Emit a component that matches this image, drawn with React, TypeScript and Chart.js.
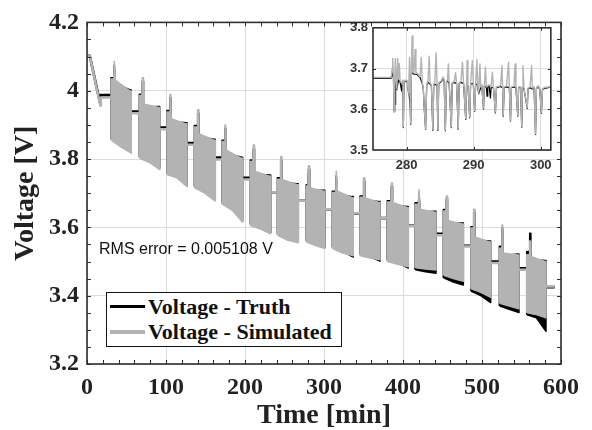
import React, { useEffect, useRef } from "react";
import { Chart, registerables } from "chart.js";

Chart.register(...registerables);

const SERIF = "'Liberation Serif', 'Times New Roman', serif";
const SANS = "'Liberation Sans', Arial, sans-serif";
const GRAY = "#b3b3b3";
const BLACK = "#000000";
const FRAME = "#2e2e2e";
const GRID = "#dcdcdc";
const LABEL = "#222222";

// ---------- axis ticks ----------
const xTicks = [0, 100, 200, 300, 400, 500, 600];
const yTicks = [3.2, 3.4, 3.6, 3.8, 4.0, 4.2];
const insetXTicks = [280, 290, 300];
const insetYTicks = [3.5, 3.6, 3.7, 3.8];

// ---------- main plot data (minutes, volts) ----------
// initial relaxation
const initTruthT = [1, 3.5, 16.5, 17.0];
const initTruthV = [4.102, 4.102, 3.965, 3.987];
const initSimT = [1, 3.5, 16.9, 17.5];
const initSimV = [4.102, 4.102, 3.956, 3.98];

// drive-cycle blocks
const blockStart = [30.4, 66.2, 101.3, 135.9, 170.9, 206.7, 241.0, 277.5, 310.5, 345.6, 380.0, 415.2, 451.0, 486.0, 522.0, 556.6];
const blockEnd = [56.0, 92.0, 126.6, 162.4, 197.0, 232.5, 267.5, 301.0, 337.0, 370.9, 406.7, 441.8, 476.4, 511.0, 546.8, 581.0];
const spikeT = [35.0, 70.5, 105.5, 140.5, 175.1, 211.0, 245.6, 280.8, 316.0, 350.6, 385.7, 420.7, 455.3, 489.9, 525.7, 560.8];

// rest level before each block
const truthRest = [3.987, 3.939, 3.892, 3.847, 3.804, 3.745, 3.703, 3.678, 3.653, 3.641, 3.627, 3.605, 3.581, 3.546, 3.500, 3.480];
const simRest = [3.980, 3.934, 3.887, 3.842, 3.799, 3.740, 3.703, 3.678, 3.653, 3.641, 3.627, 3.605, 3.577, 3.544, 3.496, 3.476];

// simulated envelope of each block
const simTopStart = [4.034, 3.986, 3.938, 3.894, 3.851, 3.793, 3.741, 3.721, 3.702, 3.688, 3.674, 3.668, 3.648, 3.598, 3.539, 3.520];
const simSpikeV = [4.086, 4.038, 3.990, 3.944, 3.900, 3.841, 3.807, 3.780, 3.764, 3.745, 3.730, 3.711, 3.692, 3.653, 3.607, 3.560];
const simTopAfter = [4.030, 3.961, 3.918, 3.874, 3.826, 3.764, 3.740, 3.716, 3.706, 3.687, 3.673, 3.653, 3.620, 3.572, 3.525, 3.515];
const simTopEnd = [3.999, 3.951, 3.903, 3.855, 3.802, 3.750, 3.725, 3.706, 3.687, 3.673, 3.658, 3.644, 3.610, 3.557, 3.519, 3.500];
const simLowStart = [3.855, 3.802, 3.754, 3.716, 3.668, 3.605, 3.577, 3.557, 3.538, 3.517, 3.500, 3.482, 3.460, 3.420, 3.378, 3.350];
const simLowMid = [3.835, 3.790, 3.745, 3.700, 3.650, 3.595, 3.562, 3.547, 3.525, 3.510, 3.492, 3.478, 3.450, 3.410, 3.370, 3.345];
const simLowEnd = [3.817, 3.769, 3.719, 3.677, 3.615, 3.581, 3.555, 3.538, 3.517, 3.505, 3.485, 3.475, 3.442, 3.395, 3.362, 3.335];

// truth envelope of each block
const truthTopStart = [4.038, 3.990, 3.942, 3.898, 3.855, 3.797, 3.745, 3.725, 3.706, 3.692, 3.678, 3.672, 3.652, 3.602, 3.545, 3.529];
const truthSpikeV = [4.075, 4.028, 3.980, 3.935, 3.890, 3.830, 3.795, 3.770, 3.752, 3.735, 3.720, 3.700, 3.684, 3.645, 3.598, 3.583];
const truthTopAfter = [4.022, 3.953, 3.910, 3.866, 3.818, 3.756, 3.732, 3.708, 3.698, 3.679, 3.665, 3.645, 3.612, 3.564, 3.517, 3.507];
const truthTopEnd = [4.002, 3.954, 3.906, 3.858, 3.805, 3.753, 3.728, 3.709, 3.690, 3.676, 3.661, 3.647, 3.613, 3.560, 3.522, 3.503];
const truthLowStart = [3.859, 3.806, 3.758, 3.720, 3.672, 3.609, 3.581, 3.561, 3.542, 3.521, 3.504, 3.476, 3.452, 3.413, 3.370, 3.344];
const truthLowMid = [3.839, 3.794, 3.749, 3.704, 3.654, 3.599, 3.566, 3.551, 3.529, 3.514, 3.496, 3.470, 3.440, 3.400, 3.360, 3.335];
const truthLowEnd = [3.821, 3.773, 3.723, 3.681, 3.619, 3.585, 3.559, 3.542, 3.513, 3.501, 3.481, 3.466, 3.431, 3.380, 3.351, 3.296];

// final rest
const finalT = [581.0, 592.0];
const finalTruthV = [3.425, 3.425];
const finalSimV = [3.427, 3.427];

// ---------- inset data (zoom 275 - 301.5 min), [minute, volt] ----------
const insetSim: [number, number][] = [
  [275.0, 3.678], [277.7, 3.678], [277.85, 3.700], [277.94, 3.725], [278.05, 3.680], [278.14, 3.593], [278.25, 3.680], [278.33, 3.725], [278.45, 3.672], [278.55, 3.650],
  [278.68, 3.725], [278.8, 3.675], [278.92, 3.712], [279.05, 3.668], [279.3, 3.665], [279.45, 3.672], [279.52, 3.557], [279.62, 3.668], [279.9, 3.672], [280.1, 3.670],
  [280.3, 3.640], [280.45, 3.727], [280.55, 3.600], [280.62, 3.565], [280.72, 3.700], [280.83, 3.780], [280.95, 3.690], [281.1, 3.690], [281.27, 3.747], [281.4, 3.690],
  [281.6, 3.688], [281.75, 3.685], [282.0, 3.680], [282.2, 3.727], [282.35, 3.665], [282.5, 3.650], [282.65, 3.600], [282.84, 3.553], [283.0, 3.660], [283.2, 3.670],
  [283.38, 3.730], [283.5, 3.665], [283.7, 3.660], [283.92, 3.550], [284.05, 3.660], [284.2, 3.665], [284.41, 3.739], [284.55, 3.660], [284.66, 3.550], [284.8, 3.665],
  [285.2, 3.670], [285.45, 3.680], [285.6, 3.672], [285.78, 3.549], [285.95, 3.668], [286.1, 3.672], [286.23, 3.711], [286.35, 3.665], [286.67, 3.557], [286.8, 3.665],
  [287.1, 3.668], [287.3, 3.690], [287.45, 3.665], [287.7, 3.553], [287.85, 3.665], [288.1, 3.668], [288.33, 3.715], [288.5, 3.665], [288.82, 3.577], [288.95, 3.665],
  [289.02, 3.719], [289.15, 3.660], [289.41, 3.581], [289.55, 3.665], [289.8, 3.719], [289.95, 3.665], [290.15, 3.597], [290.3, 3.665], [290.49, 3.723], [290.6, 3.660],
  [290.75, 3.640], [290.93, 3.711], [291.05, 3.655], [291.2, 3.660], [291.47, 3.603], [291.6, 3.660], [291.76, 3.703], [291.9, 3.655], [292.3, 3.660], [292.6, 3.655],
  [292.79, 3.691], [292.95, 3.655], [293.24, 3.593], [293.4, 3.655], [293.8, 3.657], [294.0, 3.658], [294.22, 3.707], [294.32, 3.655], [294.41, 3.585], [294.55, 3.655],
  [294.9, 3.657], [295.2, 3.715], [295.32, 3.655], [295.49, 3.573], [295.62, 3.655], [296.0, 3.657], [296.18, 3.711], [296.3, 3.655], [296.57, 3.585], [296.7, 3.655],
  [297.0, 3.655], [297.16, 3.558], [297.25, 3.655], [297.35, 3.707], [297.5, 3.652], [297.99, 3.604], [298.1, 3.652], [298.4, 3.655], [298.63, 3.707], [298.75, 3.652],
  [299.0, 3.655], [299.22, 3.540], [299.35, 3.652], [299.6, 3.658], [299.85, 3.650], [300.1, 3.592], [300.25, 3.650], [300.4, 3.652], [300.7, 3.654], [301.5, 3.655],
];
const insetTruth: [number, number][] = [
  [275.0, 3.676], [277.7, 3.676], [277.85, 3.690], [278.05, 3.676], [278.14, 3.596], [278.25, 3.672], [278.3, 3.612], [278.37, 3.670], [278.45, 3.670], [278.55, 3.648],
  [278.8, 3.672], [279.05, 3.666], [279.26, 3.645], [279.35, 3.665], [279.45, 3.670], [279.52, 3.555], [279.62, 3.666], [279.9, 3.670], [280.1, 3.668], [280.3, 3.640],
  [280.36, 3.644], [280.55, 3.600], [280.62, 3.563], [280.72, 3.690], [280.95, 3.688], [281.1, 3.686], [281.4, 3.686], [281.6, 3.685], [281.75, 3.682], [282.0, 3.678],
  [282.35, 3.663], [282.5, 3.648], [282.65, 3.598], [282.84, 3.551], [283.0, 3.658], [283.2, 3.666], [283.5, 3.662], [283.7, 3.658], [283.92, 3.548], [284.05, 3.658],
  [284.2, 3.662], [284.55, 3.658], [284.66, 3.548], [284.8, 3.663], [285.2, 3.668], [285.45, 3.676], [285.6, 3.670], [285.78, 3.547], [285.95, 3.666], [286.1, 3.670],
  [286.35, 3.663], [286.67, 3.555], [286.8, 3.663], [287.1, 3.666], [287.45, 3.663], [287.7, 3.551], [287.85, 3.663], [288.1, 3.666], [288.5, 3.663], [288.82, 3.575],
  [288.95, 3.663], [289.15, 3.658], [289.41, 3.579], [289.55, 3.663], [289.95, 3.663], [290.15, 3.595], [290.3, 3.663], [290.6, 3.658], [290.75, 3.638], [291.05, 3.653],
  [291.2, 3.658], [291.47, 3.601], [291.6, 3.658], [291.9, 3.653], [292.0, 3.632], [292.1, 3.654], [292.3, 3.658], [292.5, 3.628], [292.6, 3.653], [292.95, 3.653],
  [293.24, 3.591], [293.4, 3.653], [293.8, 3.655], [294.0, 3.656], [294.32, 3.653], [294.41, 3.583], [294.55, 3.653], [294.9, 3.655], [295.32, 3.653], [295.49, 3.571],
  [295.62, 3.653], [296.0, 3.655], [296.3, 3.653], [296.57, 3.583], [296.7, 3.653], [297.0, 3.653], [297.16, 3.556], [297.25, 3.653], [297.5, 3.650], [297.99, 3.602],
  [298.1, 3.650], [298.4, 3.653], [298.75, 3.650], [299.0, 3.653], [299.22, 3.538], [299.35, 3.650], [299.6, 3.656], [299.85, 3.648], [300.1, 3.590], [300.25, 3.648],
  [300.4, 3.650], [300.7, 3.652], [301.5, 3.654],
];

const SPIKE_HALF = 1.1; // half width of the first pulse of each block, minutes

type P = { x: number; y: number };

function zip(t: number[], v: number[]): P[] {
  const n = Math.min(t.length, v.length);
  const out: P[] = [];
  for (let i = 0; i < n; i++) out.push({ x: t[i], y: v[i] });
  return out;
}

function pairs(list: [number, number][]): P[] {
  return list.map(([x, y]) => ({ x, y }));
}

function blockPoly(i: number, topStart: number[], spikeV: number[], topAfter: number[], topEnd: number[],
  lowStart: number[], lowMid: number[], lowEnd: number[]): P[] {
  const s = blockStart[i], e = blockEnd[i], k = spikeT[i];
  return [
    { x: s, y: lowStart[i] },
    { x: s, y: topStart[i] },
    { x: k - SPIKE_HALF, y: topStart[i] },
    { x: k - SPIKE_HALF * 0.4, y: spikeV[i] },
    { x: k + SPIKE_HALF * 0.4, y: spikeV[i] },
    { x: k + SPIKE_HALF, y: topAfter[i] },
    { x: e - 1.5, y: topEnd[i] },
    { x: e, y: topEnd[i] },
    { x: e, y: lowEnd[i] },
    { x: (s + e) / 2, y: lowMid[i] },
    { x: s + 0.5, y: lowStart[i] },
    { x: s, y: lowStart[i] },
  ];
}

function restLine(initT: number[], initV: number[], rest: number[], finV: number[]): P[] {
  const pts = zip(initT, initV);
  for (let i = 0; i < blockStart.length; i++) {
    const from = i === 0 ? initT[initT.length - 1] : blockEnd[i - 1];
    pts.push({ x: from, y: rest[i] });
    pts.push({ x: blockStart[i], y: rest[i] });
  }
  return pts.concat(zip(finalT, finV));
}

function framePlugin(tickLen: number, xMinor: number[], yMinor: number[], whiteBg: boolean) {
  return {
    id: "frameTicks",
    beforeDraw(chart: any) {
      if (!whiteBg) return;
      const { ctx, chartArea: a } = chart;
      ctx.save();
      ctx.fillStyle = "#ffffff";
      ctx.fillRect(a.left, a.top, a.right - a.left, a.bottom - a.top);
      ctx.restore();
    },
    afterDatasetsDraw(chart: any) {
      const { ctx, chartArea: a, scales } = chart;
      const x = scales.x, y = scales.y;
      ctx.save();
      ctx.strokeStyle = FRAME;
      ctx.lineWidth = 1;
      ctx.beginPath();
      for (const v of xMinor) {
        const px = Math.round(x.getPixelForValue(v)) + 0.5;
        ctx.moveTo(px, a.bottom); ctx.lineTo(px, a.bottom - tickLen);
        ctx.moveTo(px, a.top); ctx.lineTo(px, a.top + tickLen);
      }
      for (const v of yMinor) {
        const py = Math.round(y.getPixelForValue(v)) + 0.5;
        ctx.moveTo(a.left, py); ctx.lineTo(a.left + tickLen, py);
        ctx.moveTo(a.right, py); ctx.lineTo(a.right - tickLen, py);
      }
      ctx.stroke();
      ctx.lineWidth = 1.6;
      ctx.strokeRect(a.left, a.top, a.right - a.left, a.bottom - a.top);
      ctx.restore();
    },
  };
}

function fmt(v: number) {
  return String(Number(v.toFixed(2)));
}

function lineDs(data: P[], color: string, width: number, order: number, fill: any = false) {
  return {
    data,
    showLine: true,
    borderColor: color,
    backgroundColor: color,
    borderWidth: width,
    pointRadius: 0,
    pointHoverRadius: 0,
    borderJoinStyle: "round",
    fill,
    order,
  };
}

function mainConfig(): any {
  const datasets: any[] = [];
  datasets.push(lineDs(restLine(initSimT, initSimV, simRest, finalSimV), GRAY, 2.5, 0));
  for (let i = 0; i < blockStart.length; i++) {
    datasets.push(lineDs(blockPoly(i, simTopStart, simSpikeV, simTopAfter, simTopEnd, simLowStart, simLowMid, simLowEnd), GRAY, 1.5, 1, "shape"));
  }
  datasets.push(lineDs(restLine(initTruthT, initTruthV, truthRest, finalTruthV), BLACK, 2.6, 2));
  for (let i = 0; i < blockStart.length; i++) {
    datasets.push(lineDs(blockPoly(i, truthTopStart, truthSpikeV, truthTopAfter, truthTopEnd, truthLowStart, truthLowMid, truthLowEnd), BLACK, 1.5, 3, "shape"));
  }
  const xMinor: number[] = [];
  for (let v = 0; v <= 600; v += 20) xMinor.push(v);
  const yMinor: number[] = [];
  for (let i = 0; i <= 20; i++) yMinor.push(3.2 + i * 0.05);

  return {
    type: "scatter",
    data: { datasets },
    options: {
      responsive: false,
      animation: false,
      devicePixelRatio: 1,
      events: [],
      layout: { padding: { left: 0, top: 17, right: 31, bottom: 0 } },
      plugins: { legend: { display: false }, tooltip: { enabled: false } },
      scales: {
        x: {
          type: "linear",
          min: 0,
          max: 600,
          afterBuildTicks: (s: any) => { s.ticks = xTicks.map((v) => ({ value: v })); },
          afterFit: (s: any) => { s.height = 66; },
          grid: { color: GRID, lineWidth: 1, drawTicks: false },
          border: { display: false },
          ticks: {
            autoSkip: false,
            maxRotation: 0,
            padding: 9,
            color: LABEL,
            font: { family: SERIF, size: 24, weight: "bold" },
            callback: (v: number) => fmt(v),
          },
          title: {
            display: true,
            text: "Time [min]",
            color: LABEL,
            padding: { top: 0, bottom: 0 },
            font: { family: SERIF, size: 28, weight: "bold", lineHeight: 1 },
          },
        },
        y: {
          type: "linear",
          min: 3.2,
          max: 4.2,
          afterBuildTicks: (s: any) => { s.ticks = yTicks.map((v) => ({ value: v })); },
          afterFit: (s: any) => { s.width = 87; },
          grid: { color: GRID, lineWidth: 1, drawTicks: false },
          border: { display: false },
          ticks: {
            padding: 8,
            color: LABEL,
            font: { family: SERIF, size: 24, weight: "bold" },
            callback: (v: number) => fmt(v),
          },
          title: {
            display: true,
            text: "Voltage [V]",
            color: LABEL,
            padding: { top: 12, bottom: 0 },
            font: { family: SERIF, size: 28, weight: "bold", lineHeight: 1 },
          },
        },
      },
    },
    plugins: [framePlugin(4, xMinor, yMinor, false)],
  };
}

function insetConfig(): any {
  const datasets = [
    lineDs(pairs(insetSim), GRAY, 1.4, 0),
    lineDs(pairs(insetTruth), BLACK, 1.2, 1),
  ];
  return {
    type: "scatter",
    data: { datasets },
    options: {
      responsive: false,
      animation: false,
      devicePixelRatio: 1,
      events: [],
      layout: { padding: { left: 0, top: 12, right: 7, bottom: 0 } },
      plugins: { legend: { display: false }, tooltip: { enabled: false } },
      scales: {
        x: {
          type: "linear",
          min: 275,
          max: 301.5,
          afterBuildTicks: (s: any) => { s.ticks = insetXTicks.map((v) => ({ value: v })); },
          afterFit: (s: any) => { s.height = 35; },
          grid: { color: GRID, lineWidth: 1, drawTicks: false },
          border: { display: false },
          ticks: {
            autoSkip: false,
            maxRotation: 0,
            padding: 8,
            color: "#333333",
            font: { family: SANS, size: 13, weight: "bold" },
            callback: (v: number) => fmt(v),
          },
        },
        y: {
          type: "linear",
          min: 3.5,
          max: 3.8,
          afterBuildTicks: (s: any) => { s.ticks = insetYTicks.map((v) => ({ value: v })); },
          afterFit: (s: any) => { s.width = 43; },
          grid: { color: GRID, lineWidth: 1, drawTicks: false },
          border: { display: false },
          ticks: {
            padding: 5,
            color: "#333333",
            font: { family: SANS, size: 13, weight: "bold" },
            callback: (v: number) => fmt(v),
          },
        },
      },
    },
    plugins: [framePlugin(3, insetXTicks, [3.6, 3.7], true)],
  };
}

export default function App() {
  const mainRef = useRef<HTMLCanvasElement | null>(null);
  const insetRef = useRef<HTMLCanvasElement | null>(null);

  useEffect(() => {
    document.body.style.margin = "0";
    const main = new Chart(mainRef.current as HTMLCanvasElement, mainConfig());
    const inset = new Chart(insetRef.current as HTMLCanvasElement, insetConfig());
    return () => {
      main.destroy();
      inset.destroy();
    };
  }, []);

  const legendText: React.CSSProperties = {
    marginLeft: 3,
    font: `bold 22px ${SERIF}`,
    color: "#111111",
    lineHeight: "25px",
    whiteSpace: "nowrap",
  };

  return (
    <div style={{ position: "absolute", left: 0, top: 0, width: 592, height: 430, background: "#ffffff", overflow: "hidden" }}>
      <canvas ref={mainRef} width={592} height={430} style={{ position: "absolute", left: 0, top: 0 }} />
      <canvas ref={insetRef} width={230} height={170} style={{ position: "absolute", left: 330, top: 15 }} />
      <div style={{ position: "absolute", left: 99, top: 241, font: `16px ${SANS}`, lineHeight: "16px", color: "#111111", whiteSpace: "nowrap" }}>
        RMS error = 0.005108 V
      </div>
      <div style={{ position: "absolute", left: 106, top: 292, width: 236, height: 55, boxSizing: "border-box", border: "1.5px solid #111111", background: "#ffffff", paddingTop: 1 }}>
        <div style={{ display: "flex", alignItems: "center", height: 25 }}>
          <div style={{ width: 35, height: 3, marginLeft: 3, background: BLACK }} />
          <span style={legendText}>Voltage - Truth</span>
        </div>
        <div style={{ display: "flex", alignItems: "center", height: 25 }}>
          <div style={{ width: 35, height: 4, marginLeft: 3, background: GRAY }} />
          <span style={legendText}>Voltage - Simulated</span>
        </div>
      </div>
    </div>
  );
}
